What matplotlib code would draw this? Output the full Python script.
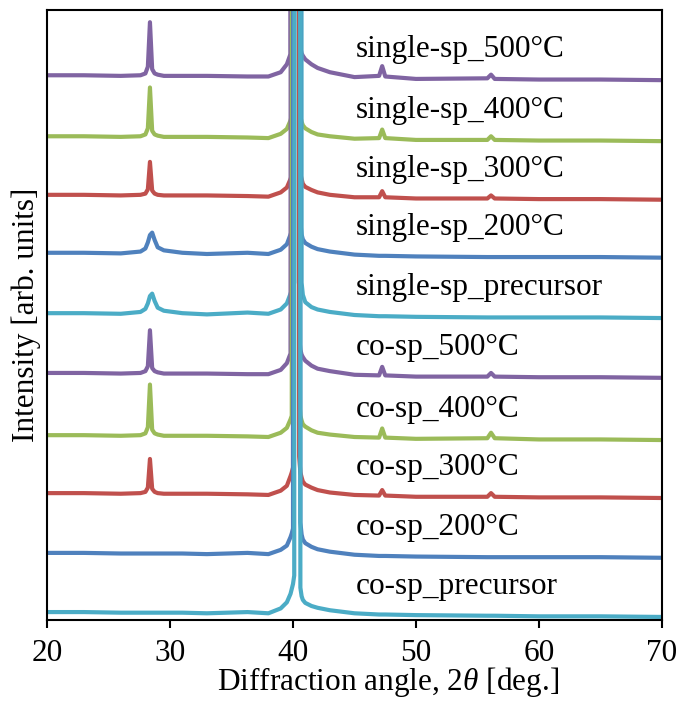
import matplotlib
matplotlib.use("Agg")
import matplotlib.pyplot as plt

plt.rcParams['font.family'] = ['Liberation Serif', 'DejaVu Serif']
plt.rcParams['mathtext.fontset'] = 'custom'
plt.rcParams['mathtext.rm'] = 'Liberation Serif'
plt.rcParams['mathtext.it'] = 'Liberation Serif:italic'

# 2theta grid shared by all patterns
two_theta = [20, 23, 26, 27.6, 28.0, 28.2, 28.37, 28.55, 28.75, 29.0,
             29.5, 31, 33, 36.3, 38, 39, 39.5, 39.8, 39.9, 40.0,
             40.1, 40.2, 40.3, 40.4, 40.5, 40.6, 40.7, 40.8, 41.0, 41.5,
             42, 43, 45, 47.0, 47.25, 47.5, 50, 55.8, 56.1, 56.4,
             60, 65, 70]

# intensities relative to each pattern's baseline (arb. units, main peak runs off scale)
sp_500 = [0.0, 0.0, -0.1, 0.0, 0.3, 1.4, 8.7, 1.0, 0.3, 0.1,
          -0.1, -0.1, -0.1, -0.2, -0.2, 0.5, 1.8, 3.5, 600, 600,
          600, 600, 600, 600, 8, 4.5, 3.6, 3.2, 2.6, 1.8,
          1.2, 0.5, -0.3, -0.1, 1.5, -0.2, -0.6, -0.5, 0.1, -0.6,
          -0.7, -0.7, -0.8]
sp_400 = [0.0, 0.0, -0.1, 0.0, 0.3, 1.3, 8.0, 0.9, 0.3, 0.1,
          -0.1, -0.1, -0.1, -0.2, -0.3, 0.4, 1.2, 2.6, 3.4, 600,
          600, 600, 600, 600, 6, 3.2, 2.4, 1.8, 1.3, 0.7,
          0.3, 0.0, -0.4, -0.3, 1.1, -0.3, -0.6, -0.6, 0.0, -0.6,
          -0.7, -0.7, -0.8]
sp_300 = [0.0, 0.0, -0.1, 0.0, 0.2, 0.9, 5.4, 0.7, 0.2, 0.0,
          -0.1, -0.1, -0.1, -0.2, -0.3, 0.4, 1.2, 2.6, 3.2, 4.0,
          600, 600, 600, 600, 6, 3.4, 2.6, 1.8, 1.3, 0.8,
          0.4, 0.0, -0.4, -0.4, 0.6, -0.4, -0.6, -0.6, -0.1, -0.6,
          -0.7, -0.7, -0.8]
sp_200 = [0.0, 0.0, -0.1, 0.2, 0.7, 1.7, 2.9, 3.3, 2.1, 0.9,
          0.4, 0.0, -0.2, 0.0, -0.2, 0.5, 1.4, 3.0, 3.6, 4.5,
          600, 600, 600, 600, 600, 5, 3.0, 2.2, 1.6, 1.0,
          0.6, 0.2, -0.3, -0.5, -0.5, -0.5, -0.6, -0.7, -0.7, -0.7,
          -0.7, -0.7, -0.8]
sp_prec = [0.0, 0.0, -0.1, 0.2, 0.7, 1.6, 2.8, 3.2, 2.0, 0.9,
           0.4, 0.0, -0.2, 0.1, -0.1, 0.6, 1.6, 3.2, 3.8, 4.3,
           5, 600, 600, 600, 600, 600, 5, 3.0, 1.8, 1.0,
           0.6, 0.2, -0.3, -0.5, -0.5, -0.5, -0.6, -0.7, -0.7, -0.7,
           -0.7, -0.7, -0.8]
co_500 = [0.0, 0.0, -0.1, 0.0, 0.3, 1.1, 7.0, 0.8, 0.3, 0.1,
          -0.1, -0.1, -0.1, -0.2, -0.2, 0.5, 1.6, 3.2, 600, 600,
          600, 600, 600, 600, 6, 3.8, 3.0, 2.6, 2.0, 1.2,
          0.7, 0.3, -0.3, -0.4, 1.0, -0.4, -0.6, -0.6, 0.0, -0.6,
          -0.7, -0.7, -0.8]
co_400 = [0.0, 0.0, -0.1, 0.0, 0.3, 1.3, 8.3, 0.9, 0.3, 0.1,
          -0.1, -0.1, -0.1, -0.2, -0.3, 0.4, 1.2, 2.6, 3.2, 600,
          600, 600, 600, 600, 6, 3.2, 2.4, 1.8, 1.4, 0.8,
          0.4, 0.1, -0.3, -0.4, 1.1, -0.4, -0.6, -0.5, 0.4, -0.5,
          -0.7, -0.7, -0.8]
co_300 = [0.0, 0.0, -0.1, 0.0, 0.2, 0.9, 5.6, 0.7, 0.2, 0.0,
          -0.1, -0.1, -0.1, -0.2, -0.3, 0.4, 1.2, 2.8, 3.4, 4.2,
          600, 600, 600, 600, 6, 3.4, 2.6, 1.9, 1.4, 0.9,
          0.5, 0.1, -0.3, -0.4, 0.5, -0.4, -0.6, -0.6, 0.0, -0.6,
          -0.7, -0.7, -0.8]
co_200 = [0.0, 0.0, -0.1, -0.1, -0.1, -0.1, -0.1, -0.1, -0.1, -0.1,
          -0.1, -0.1, -0.2, 0.0, -0.2, 0.5, 1.2, 2.6, 3.2, 4.0,
          600, 600, 600, 600, 600, 5, 3.0, 2.2, 1.6, 1.0,
          0.6, 0.2, -0.3, -0.5, -0.5, -0.5, -0.6, -0.7, -0.7, -0.7,
          -0.7, -0.7, -0.8]
co_prec = [0.0, 0.0, -0.1, -0.1, -0.1, -0.1, -0.1, -0.1, -0.1, -0.1,
           -0.1, -0.1, -0.2, 0.0, -0.2, 0.6, 1.6, 3.0, 3.8, 4.6,
           6, 600, 600, 600, 600, 4, 2.6, 2.0, 1.5, 1.0,
           0.7, 0.3, -0.2, -0.4, -0.4, -0.4, -0.5, -0.6, -0.6, -0.6,
           -0.7, -0.7, -0.8]

labels = ["single-sp_500°C", "single-sp_400°C", "single-sp_300°C",
          "single-sp_200°C", "single-sp_precursor",
          "co-sp_500°C", "co-sp_400°C", "co-sp_300°C",
          "co-sp_200°C", "co-sp_precursor"]
patterns = [sp_500, sp_400, sp_300, sp_200, sp_prec,
            co_500, co_400, co_300, co_200, co_prec]
offsets = [89.3, 79.3, 69.7, 60.2, 50.3, 40.5, 30.3, 20.8, 11.0, 1.3]
colors = ["#8064A2", "#9BBB59", "#C0504D", "#4F81BD", "#4BACC6",
          "#8064A2", "#9BBB59", "#C0504D", "#4F81BD", "#4BACC6"]

fig = plt.figure(figsize=(6.91, 7.01), dpi=100)
ax = fig.add_axes([47 / 691, 81 / 701, 615 / 691, 610 / 701])

for y, off, c, lab in zip(patterns, offsets, colors, labels):
    ax.plot(two_theta, [v + off for v in y], color=c, lw=3.0,
            solid_joinstyle='round')
    ax.text(45.1, off + 4.2, lab, fontsize=22.5, va='center', ha='left')

ax.set_xlim(20, 70)
ax.set_ylim(0, 100)
ax.set_xticks([20, 30, 40, 50, 60, 70])
ax.set_yticks([])
ax.tick_params(axis='x', direction='out', length=6, width=1.5, pad=8,
               labelsize=22.5)
for s in ax.spines.values():
    s.set_linewidth(1.5)

ax.set_xlabel(r"Diffraction angle, 2$\theta$ [deg.]", fontsize=22.5)
ax.xaxis.set_label_coords(0.554, -0.074)
ax.set_ylabel("Intensity [arb. units]", fontsize=22.5)

fig.savefig("out.png", dpi=100)
